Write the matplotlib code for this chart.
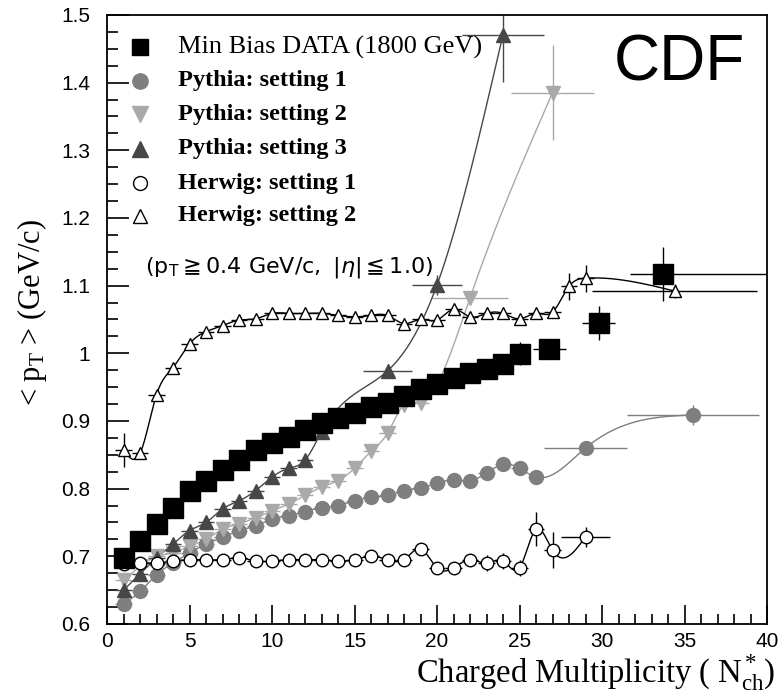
import numpy as np
import matplotlib
matplotlib.use("Agg")
import matplotlib.pyplot as plt

plt.rcParams['mathtext.fontset'] = 'custom'
plt.rcParams['mathtext.rm'] = 'Liberation Serif'
plt.rcParams['mathtext.it'] = 'Liberation Serif:italic'

# Min Bias DATA (1800 GeV)
data_n = [1, 2, 3, 4, 5, 6, 7, 8, 9, 10, 11, 12, 13, 14, 15, 16, 17, 18, 19, 20,
          21, 22, 23, 24, 25, 26.8, 29.8, 33.7]
data_pt = [0.698, 0.723, 0.748, 0.772, 0.797, 0.812, 0.827, 0.842, 0.857, 0.867,
           0.877, 0.887, 0.897, 0.905, 0.912, 0.920, 0.927, 0.937, 0.947, 0.955,
           0.964, 0.971, 0.977, 0.984, 0.999, 1.006, 1.045, 1.117]
data_xlo = [0] * 25 + [1.0, 1.0, 2.0]
data_xhi = [0] * 25 + [1.0, 1.0, 6.3]
data_yerr = [0.004] * 24 + [0.017, 0.01, 0.025, 0.04]

# Pythia setting 1
py1_n = list(range(1, 27)) + [29, 35.5]
py1_pt = [0.630, 0.648, 0.673, 0.690, 0.705, 0.718, 0.728, 0.738, 0.745, 0.755,
          0.760, 0.766, 0.772, 0.775, 0.782, 0.787, 0.790, 0.797, 0.801, 0.808,
          0.813, 0.812, 0.823, 0.836, 0.830, 0.817, 0.860, 0.909]
py1_xerr = [0.5] * 26 + [2.5, 4.0]
py1_yerr = [0.004] * 26 + [0.006, 0.015]

# Pythia setting 2
py2_n = list(range(1, 20)) + [22, 27]
py2_pt = [0.665, 0.685, 0.700, 0.705, 0.715, 0.725, 0.740, 0.748, 0.757, 0.767,
          0.777, 0.790, 0.802, 0.812, 0.830, 0.855, 0.882, 0.924, 0.927, 1.082, 1.385]
py2_xerr = [0.5] * 19 + [2.3, 2.5]
py2_yerr = [0.004] * 19 + [0.006, 0.07]

# Pythia setting 3
py3_n = list(range(1, 14)) + [17, 20, 24]
py3_pt = [0.650, 0.674, 0.698, 0.718, 0.738, 0.750, 0.770, 0.782, 0.797, 0.817,
          0.830, 0.842, 0.884, 0.974, 1.101, 1.471]
py3_xerr = [0.5] * 13 + [1.5, 1.5, 2.5]
py3_yerr = [0.004] * 13 + [0.006, 0.015, 0.07]

# Herwig setting 1
hw1_n = list(range(1, 28)) + [29]
hw1_pt = [0.688, 0.690, 0.690, 0.693, 0.695, 0.695, 0.695, 0.698, 0.693, 0.693,
          0.695, 0.695, 0.695, 0.693, 0.695, 0.700, 0.695, 0.695, 0.711, 0.683,
          0.683, 0.695, 0.690, 0.693, 0.683, 0.740, 0.709, 0.729]
hw1_xerr = [0.5] * 27 + [1.5]
hw1_yerr = [0.004] * 22 + [0.012, 0.012, 0.012, 0.025, 0.027, 0.015]

# Herwig setting 2
hw2_n = list(range(1, 30)) + [34.4]
hw2_pt = [0.857, 0.852, 0.939, 0.979, 1.014, 1.032, 1.041, 1.049, 1.051, 1.059,
          1.059, 1.059, 1.059, 1.056, 1.054, 1.056, 1.056, 1.044, 1.050, 1.049,
          1.065, 1.054, 1.059, 1.059, 1.051, 1.059, 1.061, 1.099, 1.111, 1.092]
hw2_xerr = [0.5] * 29 + [5.0]
hw2_yerr = [0.025] + [0.004] * 26 + [0.02, 0.02, 0.01]


def smooth(x, y, n=500):
    # natural cubic spline, just for the drawn curve
    x = np.asarray(x, float)
    y = np.asarray(y, float)
    h = np.diff(x)
    m = len(x)
    A = np.zeros((m, m))
    b = np.zeros(m)
    A[0, 0] = A[-1, -1] = 1
    for i in range(1, m - 1):
        A[i, i - 1] = h[i - 1]
        A[i, i] = 2 * (h[i - 1] + h[i])
        A[i, i + 1] = h[i]
        b[i] = 3 * ((y[i + 1] - y[i]) / h[i] - (y[i] - y[i - 1]) / h[i - 1])
    c = np.linalg.solve(A, b)
    xs = np.linspace(x[0], x[-1], n)
    idx = np.clip(np.searchsorted(x, xs) - 1, 0, m - 2)
    dx = xs - x[idx]
    bb = (y[1:] - y[:-1]) / h - h * (2 * c[:-1] + c[1:]) / 3
    d = (c[1:] - c[:-1]) / (3 * h)
    ys = y[idx] + bb[idx] * dx + c[idx] * dx ** 2 + d[idx] * dx ** 3
    return xs, ys


fig = plt.figure(figsize=(7.79, 6.93), dpi=100)
ax = fig.add_axes([0.1374, 0.0996, 0.8472, 0.8788])

series = [
    (py1_n, py1_pt, py1_xerr, py1_yerr, 'o', '#7f7f7f', '#7f7f7f', 10),
    (py2_n, py2_pt, py2_xerr, py2_yerr, 'v', '#a9a9a9', '#a9a9a9', 10),
    (py3_n, py3_pt, py3_xerr, py3_yerr, '^', '#474747', '#474747', 9.5),
    (hw1_n, hw1_pt, hw1_xerr, hw1_yerr, 'o', 'white', 'black', 9),
    (hw2_n, hw2_pt, hw2_xerr, hw2_yerr, '^', 'white', 'black', 9),
]
for n, pt, xe, ye, mk, fc, ec, ms in series:
    line_col = ec if fc == 'white' else fc
    xs, ys = smooth(n, pt)
    ax.plot(xs, ys, color=line_col, lw=1.0, zorder=2)
    ax.errorbar(n, pt, xerr=xe, yerr=ye, fmt='none', ecolor=line_col,
                elinewidth=1.0, zorder=2)
    ax.plot(n, pt, ls='none', marker=mk, ms=ms, mfc=fc, mec=ec, mew=1.0, zorder=3)

ax.errorbar(data_n, data_pt, xerr=[data_xlo, data_xhi], yerr=data_yerr, fmt='none',
            ecolor='black', elinewidth=1.0, zorder=4)
ax.plot(data_n, data_pt, ls='none', marker='s', ms=14, mfc='black', mec='black', zorder=5)

ax.set_xlim(0, 40)
ax.set_ylim(0.6, 1.5)
ax.set_xticks(np.arange(0, 41, 5))
ax.set_xticks(np.arange(0, 41, 1), minor=True)
ax.set_yticks(np.arange(0.6, 1.51, 0.1))
ax.set_yticks(np.arange(0.6, 1.51, 0.025), minor=True)
ax.set_yticklabels(['0.6', '0.7', '0.8', '0.9', '1', '1.1', '1.2', '1.3', '1.4', '1.5'])
ax.tick_params(which='both', direction='in', top=False, right=False, width=1.2,
               labelsize=15, labelfontfamily='Liberation Sans')
ax.tick_params(axis='x', which='major', length=14, pad=6)
ax.tick_params(axis='x', which='minor', length=7)
ax.tick_params(axis='y', which='major', length=16, pad=12)
ax.tick_params(axis='y', which='minor', length=8)
for sp in ax.spines.values():
    sp.set_linewidth(1.3)

# legend drawn by hand
leg_y = [0.947, 0.892, 0.837, 0.780, 0.724, 0.670]
leg_mk = [('s', 'black', 'black', 11), ('o', '#7f7f7f', '#7f7f7f', 11),
          ('v', '#a9a9a9', '#a9a9a9', 11), ('^', '#474747', '#474747', 11),
          ('o', 'white', 'black', 10), ('^', 'white', 'black', 10)]
leg_txt = [('Min Bias DATA (1800 GeV)', 'normal', 19), ('Pythia: setting 1', 'bold', 17.5),
           ('Pythia: setting 2', 'bold', 17.5), ('Pythia: setting 3', 'bold', 17.5),
           ('Herwig: setting 1', 'bold', 17.5), ('Herwig: setting 2', 'bold', 17.5)]
for y, (mk, fc, ec, ms), (t, w, fs) in zip(leg_y, leg_mk, leg_txt):
    ax.plot([0.05], [y], transform=ax.transAxes, marker=mk, ms=ms, mfc=fc, mec=ec,
            mew=1.0, ls='none', clip_on=False)
    ax.text(0.108, y, t, transform=ax.transAxes, va='center', ha='left',
            fontsize=fs, family='Liberation Serif', fontweight=w)

ax.text(0.058, 0.586, r'$(\mathrm{p_T}\geqq 0.4\ \mathrm{GeV/c},\ |\eta|\leqq 1.0)$',
        transform=ax.transAxes, va='center', ha='left', fontsize=16,
        math_fontfamily='dejavusans')
ax.text(0.967, 0.921, 'CDF', transform=ax.transAxes, va='center', ha='right',
        fontsize=46, family='Liberation Sans')

fig.text(0.041, 1 - 312 / 693, '< p$_\\mathrm{T}$ > (GeV/c)', rotation=90,
         ha='center', va='center', fontsize=22, family='Liberation Serif')
fig.text(0.995, 0.0144, 'Charged Multiplicity ( $\\mathrm{N^*_{ch}}$)', ha='right',
         va='baseline', fontsize=23.5, family='Liberation Serif')

fig.savefig('out.png', dpi=100)
